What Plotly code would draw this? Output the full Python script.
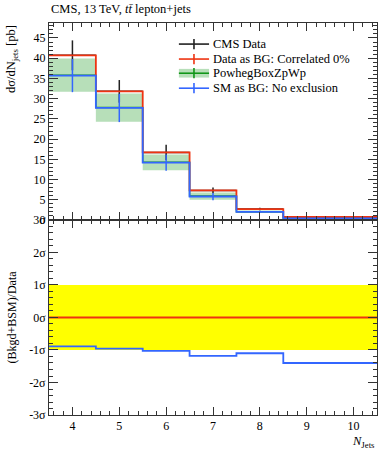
import plotly.graph_objects as go

# ---- data ----
bin_edges = [3.5, 4.5, 5.5, 6.5, 7.5, 8.5, 10.5]
bin_centers = [4.0, 5.0, 6.0, 7.0, 8.0, 9.5]
bin_halfwidths = [0.5, 0.5, 0.5, 0.5, 0.5, 1.0]
cms_data = [40.7, 31.8, 16.7, 7.3, 2.7, 0.75]
cms_data_err = [3.7, 2.8, 1.9, 0.7, 0.3, 0.1]
data_as_bg = [40.7, 31.8, 16.7, 7.3, 2.7, 0.75]
sm_as_bg = [35.7, 27.7, 14.2, 5.8, 2.0, 0.4]
sm_as_bg_err = [4.1, 3.5, 2.0, 0.9, 0.3, 0.1]
powheg = [35.8, 27.8, 14.25, 5.9, 2.05, 0.42]
powheg_err = [4.1, 3.5, 1.95, 0.9, 0.3, 0.1]
sig_data_as_bg = [0, 0, 0, 0, 0, 0]
sig_sm_as_bg = [-0.89, -0.96, -1.03, -1.18, -1.10, -1.40]
top_ticks = [0, 5, 10, 15, 20, 25, 30, 35, 40, 45]
sig_ticks = [-3, -2, -1, 0, 1, 2, 3]
sig_labels = ["-3σ", "-2σ", "-1σ", "0σ", "1σ", "2σ", "3σ"]
x_ticks = [4, 5, 6, 7, 8, 9, 10]

RED = "#EE3311"
BLUE = "#3366FF"
GREEN = "#109618"
BAND = "rgba(16,150,24,0.30)"
FONT = "Liberation Serif"


def step(vals):
    return list(vals) + [vals[-1]]


fig = go.Figure()

# green band (PowhegBoxZpWp)
lo = [v - e for v, e in zip(powheg, powheg_err)]
hi = [v + e for v, e in zip(powheg, powheg_err)]
fig.add_trace(go.Scatter(x=bin_edges, y=step(lo), mode="lines", line=dict(width=0, shape="hv"),
                         showlegend=False, xaxis="x", yaxis="y"))
fig.add_trace(go.Scatter(x=bin_edges, y=step(hi), mode="lines", line=dict(width=0, shape="hv"),
                         fill="tonexty", fillcolor=BAND, showlegend=False, xaxis="x", yaxis="y"))
fig.add_trace(go.Scatter(x=bin_edges, y=step(powheg), mode="lines", line=dict(color=GREEN, width=1.5, shape="hv"),
                         showlegend=False, xaxis="x", yaxis="y"))

# CMS data
fig.add_trace(go.Scatter(x=bin_centers, y=cms_data, mode="markers",
                         marker=dict(size=1, color="rgba(0,0,0,0)"),
                         error_y=dict(type="data", array=cms_data_err, color="#222", thickness=1.5, width=0),
                         error_x=dict(type="data", array=bin_halfwidths, color="#222", thickness=1.5, width=0),
                         showlegend=False, xaxis="x", yaxis="y"))

# Data as BG
fig.add_trace(go.Scatter(x=bin_edges, y=step(data_as_bg), mode="lines", line=dict(color=RED, width=1.8, shape="hv"),
                         showlegend=False, xaxis="x", yaxis="y"))

# SM as BG
fig.add_trace(go.Scatter(x=bin_edges, y=step(sm_as_bg), mode="lines", line=dict(color=BLUE, width=1.8, shape="hv"),
                         showlegend=False, xaxis="x", yaxis="y"))
fig.add_trace(go.Scatter(x=bin_centers, y=sm_as_bg, mode="markers",
                         marker=dict(size=1, color="rgba(0,0,0,0)"),
                         error_y=dict(type="data", array=sm_as_bg_err, color=BLUE, thickness=1.5, width=0),
                         showlegend=False, xaxis="x", yaxis="y"))

# ---- ratio panel ----
fig.add_trace(go.Scatter(x=[bin_edges[0], bin_edges[-1]], y=[-1, -1], mode="lines", line=dict(width=0),
                         showlegend=False, xaxis="x2", yaxis="y2"))
fig.add_trace(go.Scatter(x=[bin_edges[0], bin_edges[-1]], y=[1, 1], mode="lines", line=dict(width=0),
                         fill="tonexty", fillcolor="#FFFF00", showlegend=False, xaxis="x2", yaxis="y2"))
fig.add_trace(go.Scatter(x=bin_edges, y=step(sig_data_as_bg), mode="lines", line=dict(color=RED, width=1.8, shape="hv"),
                         showlegend=False, xaxis="x2", yaxis="y2"))
fig.add_trace(go.Scatter(x=bin_edges, y=step(sig_sm_as_bg), mode="lines", line=dict(color=BLUE, width=1.8, shape="hv"),
                         showlegend=False, xaxis="x2", yaxis="y2"))

SPLIT = 0.4975
axis_common = dict(showline=True, linecolor="#333", linewidth=1, mirror="ticks", ticks="inside",
                   tickcolor="#333", showgrid=False, zeroline=False,
                   tickfont=dict(family=FONT, size=12, color="black"))

fig.update_layout(
    width=389, height=450,
    margin=dict(l=49, r=12, t=23, b=35),
    paper_bgcolor="white", plot_bgcolor="white",
    showlegend=False,
    xaxis=dict(axis_common, domain=[0, 1], range=[3.5, 10.5], anchor="y", showticklabels=False,
               tickvals=x_ticks, ticklen=8, minor=dict(ticks="inside", dtick=0.2, tick0=3.6, ticklen=4, tickcolor="#333")),
    yaxis=dict(axis_common, domain=[SPLIT, 1], range=[0, 48.7], anchor="x",
               tickvals=top_ticks, ticklen=9, minor=dict(ticks="inside", dtick=1, ticklen=4, tickcolor="#333")),
    xaxis2=dict(axis_common, domain=[0, 1], range=[3.5, 10.5], anchor="y2",
                tickvals=x_ticks, ticklen=8, minor=dict(ticks="inside", dtick=0.2, tick0=3.6, ticklen=4, tickcolor="#333")),
    yaxis2=dict(axis_common, domain=[0, SPLIT], range=[-3, 3], anchor="x2",
                tickvals=sig_ticks, ticktext=sig_labels, ticklen=9,
                minor=dict(ticks="inside", dtick=0.2, tick0=-3, ticklen=4, tickcolor="#333")),
)

annots = [
    dict(text="CMS, 13 TeV, <i>tt̄</i> lepton+jets", xref="paper", yref="paper", x=0, y=1.0,
         xanchor="left", yanchor="bottom", yshift=5, showarrow=False, font=dict(family=FONT, size=12.5, color="black")),
    dict(text="dσ/dN<sub>jets</sub> [pb]", xref="paper", yref="paper", x=0, y=1.0, xshift=-37,
         xanchor="center", yanchor="top", textangle=-90, showarrow=False, font=dict(family=FONT, size=12.5, color="black")),
    dict(text="(Bkgd+BSM)/Data", xref="paper", yref="paper", x=0, y=SPLIT / 2, xshift=-37,
         xanchor="center", yanchor="middle", textangle=-90, showarrow=False, font=dict(family=FONT, size=12, color="black")),
    dict(text="<i>N</i><sub>Jets</sub>", xref="paper", yref="paper", x=1, y=0, yshift=-17,
         xanchor="right", yanchor="top", showarrow=False, font=dict(family=FONT, size=12.5, color="black")),
]

# manual legend (in top-panel domain coordinates)
leg_x0, leg_x1, leg_xt = 0.396, 0.488, 0.494
rows = [0.893, 0.817, 0.745, 0.669]
names = ["CMS Data", "Data as BG: Correlated 0%", "PowhegBoxZpWp", "SM as BG: No exclusion"]
cols = ["#222", RED, GREEN, BLUE]
shapes = []
for i, (yy, nm, c) in enumerate(zip(rows, names, cols)):
    if i == 2:
        shapes.append(dict(type="rect", xref="x domain", yref="y domain", x0=leg_x0, x1=leg_x1,
                           y0=yy - 0.022, y1=yy + 0.022, fillcolor=BAND, line=dict(width=0)))
    shapes.append(dict(type="line", xref="x domain", yref="y domain", x0=leg_x0, x1=leg_x1, y0=yy, y1=yy,
                       line=dict(color=c, width=1.6)))
    shapes.append(dict(type="line", xref="x domain", yref="y domain", x0=(leg_x0 + leg_x1) / 2, x1=(leg_x0 + leg_x1) / 2,
                       y0=yy - 0.026, y1=yy + 0.026, line=dict(color=c, width=1.6)))
    annots.append(dict(text=nm, xref="x domain", yref="y domain", x=leg_xt, y=yy, xanchor="left", yanchor="middle",
                       showarrow=False, font=dict(family=FONT, size=12.5, color="black")))

fig.update_layout(annotations=annots, shapes=shapes)
fig.write_html("out.html", config={"displayModeBar": False},
               post_script="document.body.style.margin='0';document.body.style.overflow='hidden';")
